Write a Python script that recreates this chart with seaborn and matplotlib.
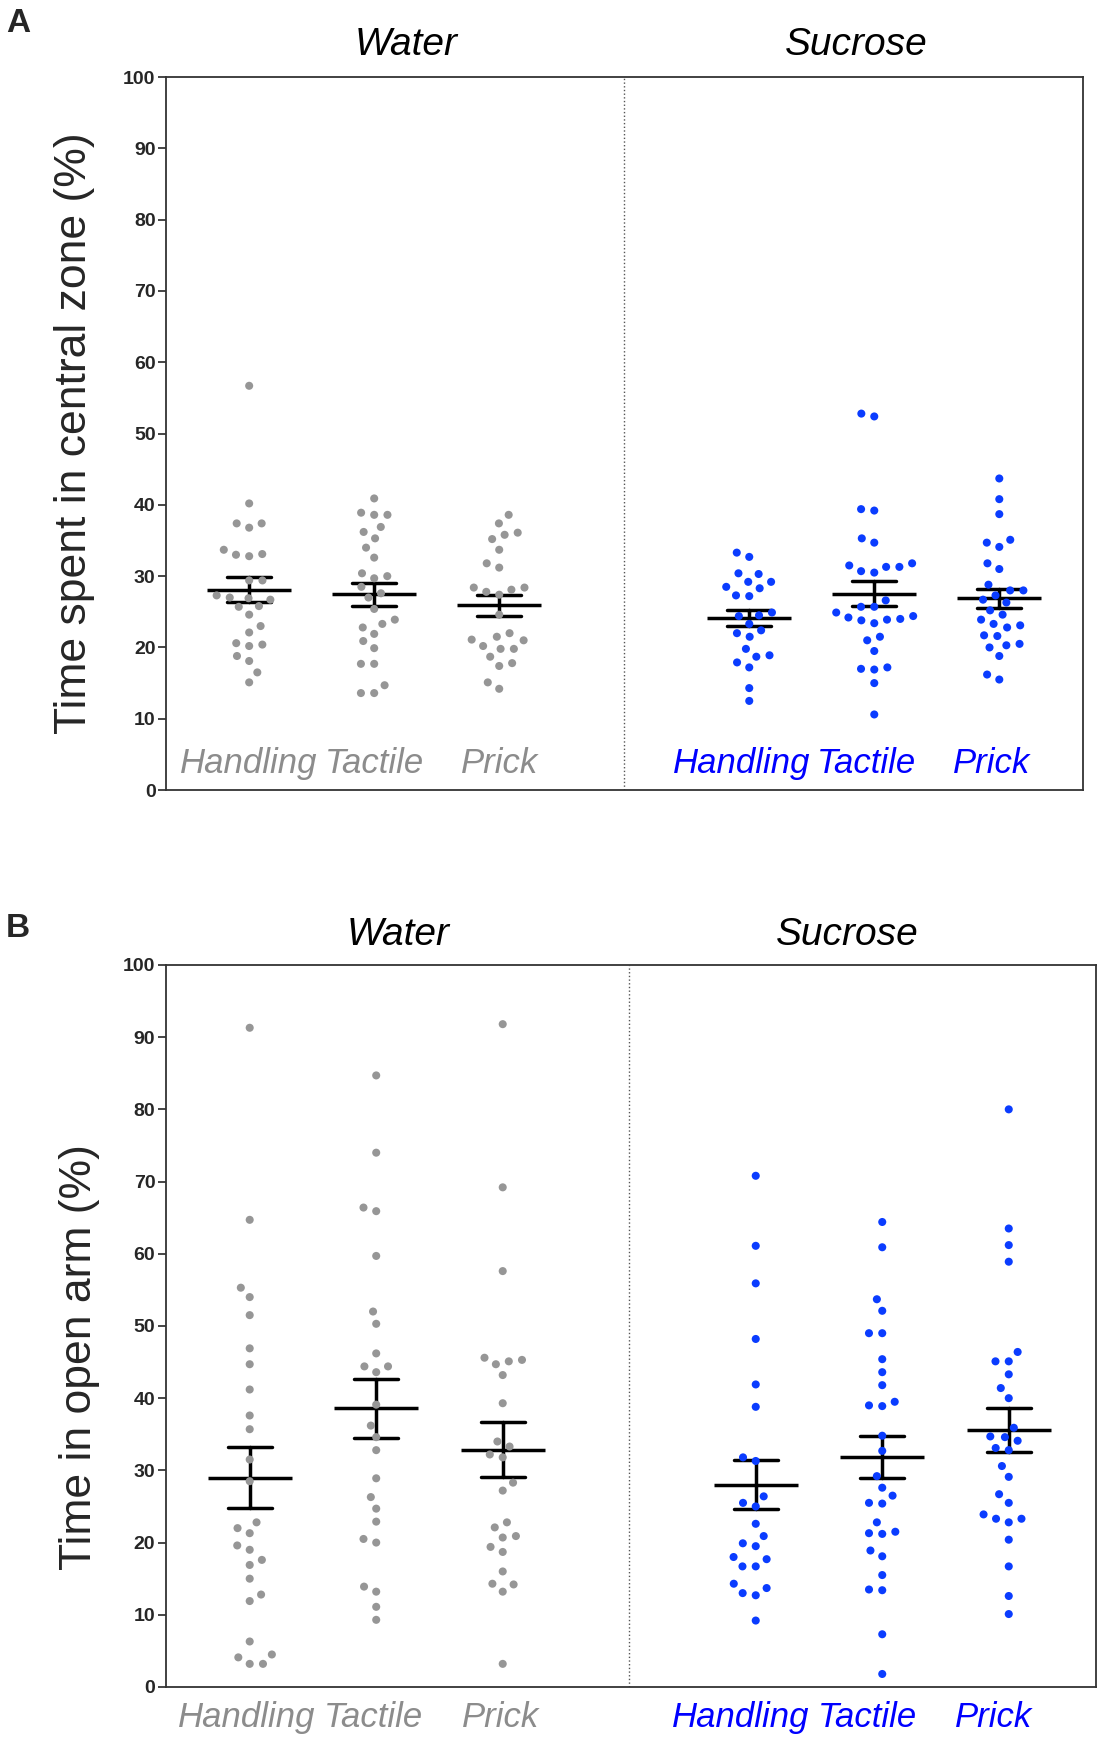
import numpy as np
import pandas as pd
import matplotlib
matplotlib.use('Agg')
import matplotlib.pyplot as plt
import matplotlib.transforms as mtransforms
import seaborn as sns

# categories
stimuli = ['Handling', 'Tactile', 'Prick']
solutions = ['Water', 'Sucrose']

# A: time spent in central zone (%)
a_water_handling = [56.7, 40.2, 37.4, 37.4, 36.8, 33.7, 33.0, 32.8, 33.1, 29.4, 29.4, 27.3, 26.9, 26.7,
                    27.0, 25.8, 25.7, 24.6, 23.0, 22.1, 20.6, 20.2, 20.4, 18.8, 18.1, 16.5, 15.1]
a_water_tactile = [40.9, 38.6, 38.6, 38.9, 36.9, 35.3, 36.2, 34.0, 32.6, 30.4, 29.7, 30.0, 28.5, 27.6,
                   27.0, 25.4, 23.9, 23.3, 22.8, 21.9, 20.9, 19.9, 17.7, 17.7, 14.7, 13.6, 13.6]
a_water_prick = [38.6, 37.4, 35.8, 35.2, 36.1, 33.7, 31.8, 31.2, 28.4, 27.8, 27.4, 28.1, 28.4, 24.6,
                 22.0, 21.1, 20.2, 19.8, 19.8, 21.0, 21.5, 18.7, 17.8, 17.4, 15.1, 14.2]
a_sucrose_handling = [33.3, 32.7, 30.4, 30.3, 29.2, 29.2, 28.3, 28.5, 27.2, 27.3, 24.9, 24.5, 24.4,
                      23.3, 22.4, 22.0, 21.5, 19.8, 18.7, 18.9, 17.9, 17.2, 14.3, 12.5]
a_sucrose_tactile = [52.4, 52.8, 39.4, 39.2, 34.7, 35.3, 31.8, 31.3, 30.7, 30.5, 31.3, 31.5, 26.6, 25.7,
                     25.7, 24.4, 24.0, 23.8, 23.4, 23.9, 24.2, 24.9, 21.5, 21.0, 19.5, 17.2, 16.9, 17.0,
                     15.0, 10.6]
a_sucrose_prick = [43.7, 40.8, 38.7, 34.7, 34.1, 35.1, 31.8, 31.0, 28.8, 28.0, 28.0, 27.3, 26.3, 26.7,
                   25.2, 24.6, 23.9, 23.3, 22.8, 23.1, 21.6, 21.7, 20.5, 20.0, 20.3, 18.8, 15.5, 16.2]

# B: time in open arm (%)
b_water_handling = [91.3, 64.7, 55.3, 54.0, 51.5, 46.9, 44.7, 41.2, 37.6, 35.7, 31.5, 28.5, 22.8, 22.0,
                    21.3, 19.6, 19.0, 17.6, 16.9, 15.0, 12.8, 11.9, 6.3, 4.1, 4.5, 3.2, 3.2]
b_water_tactile = [84.7, 74.0, 66.4, 65.9, 59.7, 52.0, 50.3, 46.2, 44.4, 43.6, 44.4, 39.1, 36.2, 34.6,
                   32.8, 28.9, 26.3, 24.7, 22.9, 20.5, 20.0, 13.9, 13.2, 11.1, 9.3]
b_water_prick = [91.8, 69.2, 57.6, 45.3, 45.1, 44.7, 45.6, 43.2, 39.3, 34.0, 33.3, 32.2, 31.8, 28.3,
                 27.2, 22.8, 22.1, 20.7, 20.9, 19.4, 18.7, 16.0, 14.2, 13.2, 14.3, 3.2]
b_sucrose_handling = [70.8, 61.1, 55.9, 48.2, 41.9, 38.8, 31.3, 31.8, 26.4, 25.5, 25.0, 22.6, 20.9,
                      19.9, 19.5, 18.0, 17.7, 16.7, 16.7, 14.3, 13.7, 13.0, 12.7, 9.2]
b_sucrose_tactile = [64.4, 60.9, 53.7, 52.1, 49.0, 49.0, 45.4, 43.6, 41.8, 39.5, 38.9, 39.0, 34.8, 32.7,
                     29.2, 27.6, 26.5, 25.4, 25.5, 22.8, 21.3, 21.2, 21.5, 18.1, 18.9, 15.5, 13.4, 13.5,
                     7.3, 1.8]
b_sucrose_prick = [80.0, 63.5, 61.2, 58.9, 46.4, 45.1, 45.1, 43.3, 41.4, 40.0, 35.9, 34.6, 34.7, 34.1,
                   33.1, 32.8, 30.6, 29.1, 26.7, 25.5, 23.9, 23.3, 22.8, 23.3, 20.4, 16.7, 12.6, 10.1]

dot_colors = {'Water': '#969696', 'Sucrose': '#0a3cff'}
text_colors = {'Water': '#8c8c8c', 'Sucrose': '#0000ff'}

# empty slot between the two solutions
order = [f'Water {st}' for st in stimuli] + [' '] + [f'Sucrose {st}' for st in stimuli]


def make_df(groups):
    frames = []
    for (sol, st), vals in zip([(s, t) for s in solutions for t in stimuli], groups):
        frames.append(pd.DataFrame({'solution': sol, 'group': f'{sol} {st}', 'value': vals}))
    return pd.concat(frames, ignore_index=True)


df_a = make_df([a_water_handling, a_water_tactile, a_water_prick,
                a_sucrose_handling, a_sucrose_tactile, a_sucrose_prick])
df_b = make_df([b_water_handling, b_water_tactile, b_water_prick,
                b_sucrose_handling, b_sucrose_tactile, b_sucrose_prick])

sns.set_style('white')
plt.rcParams['font.family'] = ['Liberation Sans', 'DejaVu Sans']

fig = plt.figure(figsize=(11.01, 17.44), dpi=100)
ax_a = fig.add_axes([0.1508, 0.5470, 0.8329, 0.4088])
ax_b = fig.add_axes([0.1505, 0.0327, 0.8450, 0.4140])


def draw_panel(ax, df, ylabel, ylabel_xy, label_y, label_shift, title_xs, title_y, xlim):
    sns.pointplot(data=df, x='group', y='value', order=order, errorbar='se', color='black',
                  markers='_', markersize=60, markeredgewidth=2.5, linestyle='none',
                  capsize=0.35, err_kws={'linewidth': 2.5}, ax=ax)
    sns.swarmplot(data=df, x='group', y='value', hue='solution', hue_order=solutions,
                  palette=dot_colors, order=order, size=5.8, linewidth=3.3, edgecolor='none',
                  legend=False, ax=ax, zorder=3)
    ax.axvline(3, color='#555555', linestyle=':', linewidth=1)
    ax.set_xlim(*xlim)
    ax.set_ylim(0, 100)
    ax.set_yticks(range(0, 101, 10))
    ax.set_xticks([])
    ax.set_xlabel('')
    ax.set_ylabel(ylabel, fontsize=32)
    ax.yaxis.set_label_coords(*ylabel_xy)
    ax.tick_params(axis='y', left=True, length=5.5, width=1.2, labelsize=14, pad=2)
    plt.setp(ax.get_yticklabels(), fontweight='bold')
    for s in ax.spines.values():
        s.set_linewidth(1.3)
        s.set_color('#333333')
    trans = mtransforms.blended_transform_factory(ax.transData, ax.transAxes)
    for i, g in enumerate(order):
        if g.strip() == '':
            continue
        sol, st = g.split(' ')
        ax.text(i + label_shift[sol], label_y, st, transform=trans, ha='center', va='baseline',
                fontsize=25, style='italic', color=text_colors[sol])
    for sol, tx in zip(solutions, title_xs):
        ax.text(tx, title_y, sol, transform=trans, ha='center', va='baseline',
                fontsize=28, style='italic', color='black')


draw_panel(ax_a, df_a, 'Time spent in central zone (%)', (-0.077, 0.5), 0.024,
           {'Water': 0.0, 'Sucrose': -0.06}, (1.256, 4.856), 1.031, (-0.665, 6.67))
draw_panel(ax_b, df_b, 'Time in open arm (%)', (-0.071, 0.457), -0.055,
           {'Water': -0.02, 'Sucrose': -0.12}, (1.17, 4.72), 1.028, (-0.664, 6.69))

fig.text(6 / 1101, 1 - 8 / 1744, 'A', fontsize=24, fontweight='bold', ha='left', va='top')
fig.text(6 / 1101, 1 - 913 / 1744, 'B', fontsize=24, fontweight='bold', ha='left', va='top')

fig.savefig('out.png', dpi=100)
